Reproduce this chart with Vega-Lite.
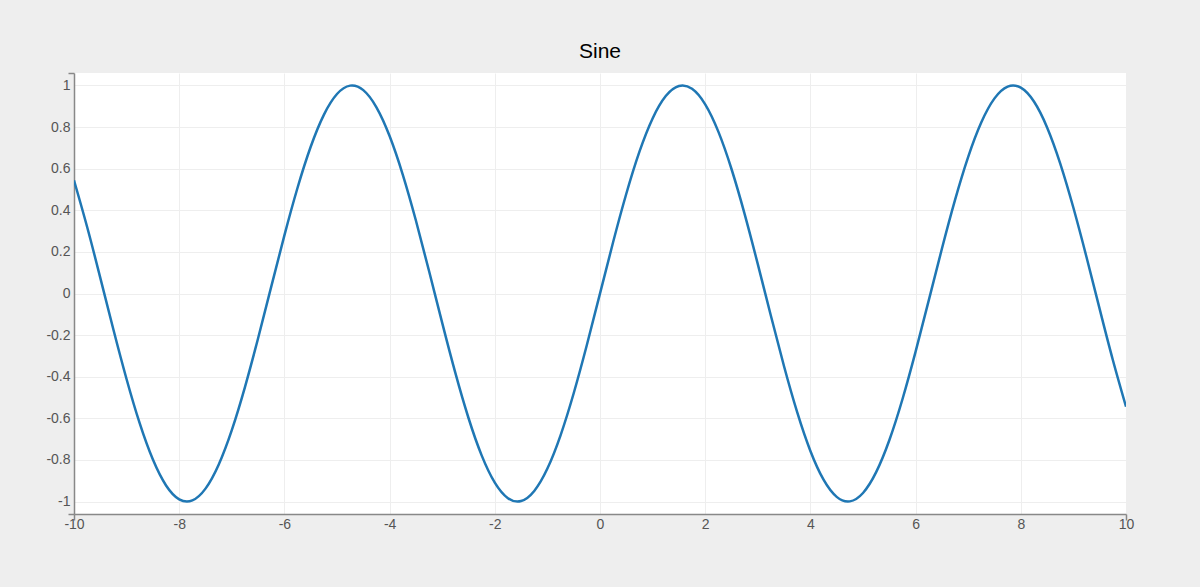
{
  "$schema": "https://vega.github.io/schema/vega-lite/v6.json",
  "autosize": {"type": "none"},
  "padding": {"left": 74, "top": 73, "right": 74, "bottom": 73},
  "width": 1052,
  "height": 441,
  "background": "#eeeeee",
  "title": {
    "text": "Sine",
    "font": "Liberation Sans",
    "fontSize": 21,
    "fontWeight": "normal",
    "color": "#000000",
    "anchor": "middle",
    "frame": "group",
    "baseline": "alphabetic",
    "offset": -13
  },
  "config": {
    "view": {"fill": "#ffffff", "stroke": null},
    "axis": {
      "labelFont": "Liberation Sans",
      "labelFontSize": 14,
      "labelColor": "#555555",
      "domainColor": "#888888",
      "domainWidth": 1.5,
      "tickColor": "#888888",
      "tickWidth": 1.5,
      "tickSize": 6,
      "gridColor": "#eeeeee",
      "gridWidth": 1,
      "title": null
    }
  },
  "data": {
    "values": [
      {"x": -10, "y": 0.5440}, {"x": -9.75, "y": 0.3195}, {"x": -9.5, "y": 0.0752}, {"x": -9.25, "y": -0.1743},
      {"x": -9, "y": -0.4121}, {"x": -8.75, "y": -0.6247}, {"x": -8.5, "y": -0.7985}, {"x": -8.25, "y": -0.9228},
      {"x": -8, "y": -0.9894}, {"x": -7.75, "y": -0.9946}, {"x": -7.5, "y": -0.9380}, {"x": -7.25, "y": -0.8231},
      {"x": -7, "y": -0.6570}, {"x": -6.75, "y": -0.4500}, {"x": -6.5, "y": -0.2151}, {"x": -6.25, "y": 0.0332},
      {"x": -6, "y": 0.2794}, {"x": -5.75, "y": 0.5083}, {"x": -5.5, "y": 0.7055}, {"x": -5.25, "y": 0.8589},
      {"x": -5, "y": 0.9589}, {"x": -4.75, "y": 0.9993}, {"x": -4.5, "y": 0.9775}, {"x": -4.25, "y": 0.8950},
      {"x": -4, "y": 0.7568}, {"x": -3.75, "y": 0.5716}, {"x": -3.5, "y": 0.3508}, {"x": -3.25, "y": 0.1082},
      {"x": -3, "y": -0.1411}, {"x": -2.75, "y": -0.3817}, {"x": -2.5, "y": -0.5985}, {"x": -2.25, "y": -0.7781},
      {"x": -2, "y": -0.9093}, {"x": -1.75, "y": -0.9840}, {"x": -1.5, "y": -0.9975}, {"x": -1.25, "y": -0.9490},
      {"x": -1, "y": -0.8415}, {"x": -0.75, "y": -0.6816}, {"x": -0.5, "y": -0.4794}, {"x": -0.25, "y": -0.2474},
      {"x": 0, "y": 0},
      {"x": 0.25, "y": 0.2474}, {"x": 0.5, "y": 0.4794}, {"x": 0.75, "y": 0.6816}, {"x": 1, "y": 0.8415},
      {"x": 1.25, "y": 0.9490}, {"x": 1.5, "y": 0.9975}, {"x": 1.75, "y": 0.9840}, {"x": 2, "y": 0.9093},
      {"x": 2.25, "y": 0.7781}, {"x": 2.5, "y": 0.5985}, {"x": 2.75, "y": 0.3817}, {"x": 3, "y": 0.1411},
      {"x": 3.25, "y": -0.1082}, {"x": 3.5, "y": -0.3508}, {"x": 3.75, "y": -0.5716}, {"x": 4, "y": -0.7568},
      {"x": 4.25, "y": -0.8950}, {"x": 4.5, "y": -0.9775}, {"x": 4.75, "y": -0.9993}, {"x": 5, "y": -0.9589},
      {"x": 5.25, "y": -0.8589}, {"x": 5.5, "y": -0.7055}, {"x": 5.75, "y": -0.5083}, {"x": 6, "y": -0.2794},
      {"x": 6.25, "y": -0.0332}, {"x": 6.5, "y": 0.2151}, {"x": 6.75, "y": 0.4500}, {"x": 7, "y": 0.6570},
      {"x": 7.25, "y": 0.8231}, {"x": 7.5, "y": 0.9380}, {"x": 7.75, "y": 0.9946}, {"x": 8, "y": 0.9894},
      {"x": 8.25, "y": 0.9228}, {"x": 8.5, "y": 0.7985}, {"x": 8.75, "y": 0.6247}, {"x": 9, "y": 0.4121},
      {"x": 9.25, "y": 0.1743}, {"x": 9.5, "y": -0.0752}, {"x": 9.75, "y": -0.3195}, {"x": 10, "y": -0.5440}
    ]
  },
  "mark": {"type": "line", "interpolate": "natural", "color": "#1f77b4", "strokeWidth": 2.5, "clip": true},
  "encoding": {
    "x": {
      "field": "x",
      "type": "quantitative",
      "scale": {"domain": [-10, 10], "nice": false, "zero": false},
      "axis": {
        "values": [-10, -8, -6, -4, -2, 0, 2, 4, 6, 8, 10],
        "labelExpr": "'' + datum.value",
        "labelPadding": -3,
        "labelBound": false,
        "labelOverlap": false,
        "labelFlush": false,
        "tickOpacity": {"condition": {"test": "abs(datum.value) > 9.9", "value": 1}, "value": 0}
      }
    },
    "y": {
      "field": "y",
      "type": "quantitative",
      "scale": {"domain": [-1.06, 1.06], "nice": false, "zero": false},
      "axis": {
        "values": [-1.06, -1, -0.8, -0.6, -0.4, -0.2, 0, 0.2, 0.4, 0.6, 0.8, 1, 1.06],
        "labelExpr": "'' + datum.value",
        "labelPadding": -2,
        "labelOverlap": false,
        "labelFlush": false,
        "labelBound": false,
        "tickOpacity": {"condition": {"test": "abs(datum.value) > 1.01", "value": 1}, "value": 0},
        "labelOpacity": {"condition": {"test": "abs(datum.value) > 1.01", "value": 0}, "value": 1},
        "gridOpacity": {"condition": {"test": "abs(datum.value) > 1.01", "value": 0}, "value": 1}
      }
    }
  }
}
